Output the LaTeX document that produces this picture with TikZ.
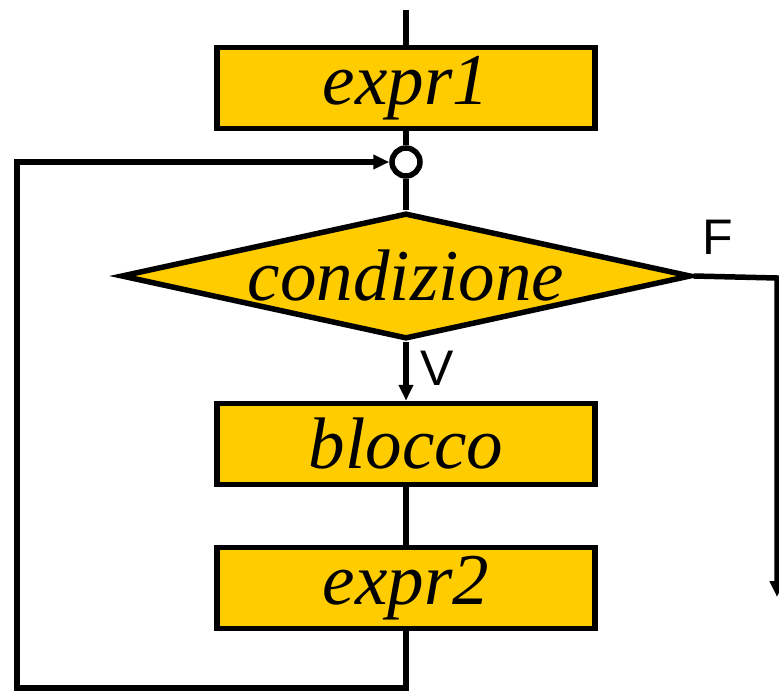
\documentclass[tikz,border=0pt]{standalone}
\usepackage{fontspec}
\setmainfont{Liberation Serif}
\newfontfamily\labelfont{Liberation Sans}
\usetikzlibrary{arrows.meta,shapes.geometric}
\definecolor{boxfill}{HTML}{FFCC00}
\begin{document}
\begin{tikzpicture}[x=1pt,y=-1pt,
  line width=5.5pt,
  tip/.style={-{Triangle[length=16pt,width=14pt]}},
  stepbox/.style={draw,fill=boxfill,minimum width=378pt,minimum height=81pt,inner sep=0pt,
    font=\fontsize{73}{76}\selectfont\itshape},
  testbox/.style={draw,fill=boxfill,diamond,aspect=4.5,minimum width=570pt,minimum height=126pt,inner sep=0pt,
    font=\fontsize{73}{76}\selectfont\itshape},
  branch/.style={font=\labelfont\fontsize{50}{54}\selectfont}]
\useasboundingbox (0,0) rectangle (779,691);

\coordinate (top) at (406,10);
\node[stepbox] (e1) at (406,88) {expr1};
\node[draw,circle,minimum size=28pt,inner sep=0pt] (join) at (406,162) {};
\node[testbox] (cond) at (406,276) {condizione};
\node[stepbox] (body) at (406,444) {blocco};
\node[stepbox] (e2) at (406,588) {expr2};

\coordinate (lb) at (17,688);
\coordinate (lt) at (17,162);
\coordinate (rt) at (777,278);
\coordinate (rend) at (777,597);

\draw (top) -- (e1.north);
\draw (e1.south) -- (join.north);
\draw (join.south) -- (cond.north);
\draw[tip] (cond.south) -- (body.north);
\draw (body.south) -- (e2.north);
\draw[tip] (e2.south) -- (406,688) -- (lb) -- (lt) -- (join.west);
\draw[tip] (cond.east) -- (rt) -- (rend);

\node[branch] (vlab) at (437,368) {V};
\node[branch] (flab) at (718,237) {F};
\end{tikzpicture}
\end{document}
